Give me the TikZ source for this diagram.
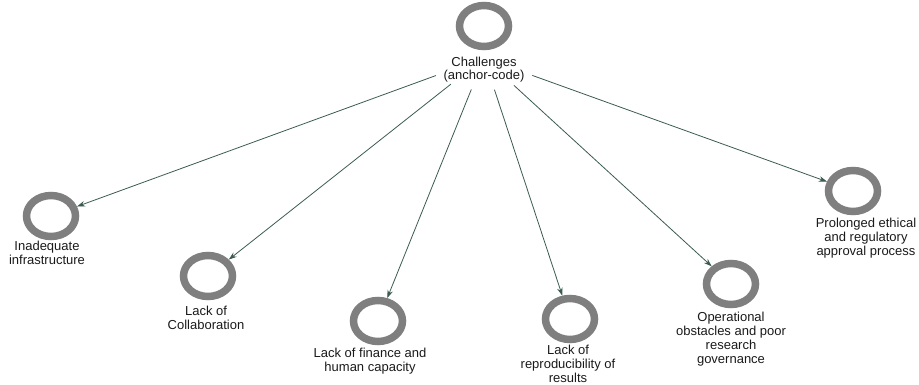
\documentclass[tikz,border=0pt]{standalone}
\usepackage{fontspec}
\setmainfont{Liberation Sans}
\usetikzlibrary{shapes.geometric,arrows.meta}
\definecolor{ringgray}{HTML}{7F7F7F}
\definecolor{arrowc}{HTML}{3B5B4F}
\definecolor{txt}{HTML}{1A1A1A}
\begin{document}
\begin{tikzpicture}[x=1pt,y=-1pt,
  ring/.style={ellipse,draw=ringgray,line width=7.5pt,minimum width=49pt,minimum height=41pt,inner sep=0pt},
  lbl/.style={align=center,anchor=north,font=\fontsize{13}{14}\selectfont,text=txt,inner sep=0pt},
  hub/.style={ellipse,minimum width=84pt,minimum height=64pt,inner sep=0pt,font=\fontsize{13}{14}\selectfont,text=txt},
  link/.style={draw=arrowc,line width=0.8pt,-{Stealth[length=8pt,width=5.5pt]}}]
\useasboundingbox (0,0) rectangle (919,385);
% central node
\node[ring] (ch) at (484,26) {};
\node[hub] (chl) at (484,58) {\raisebox{-15pt}[0pt][0pt]{\begin{tabular}{@{}c@{}}Challenges\\[-1pt](anchor-code)\end{tabular}}};
% targets
\node[ring] (b) at (51,216) {};
\node[lbl] (bl) at (47,241) {Inadequate\\infrastructure};
\node[ring] (c) at (208,276) {};
\node[lbl] (cl) at (206,306) {Lack of\\Collaboration};
\node[ring] (d) at (378,321) {};
\node[lbl] (dl) at (370,348) {Lack of finance and\\human capacity};
\node[ring] (e) at (570,319) {};
\node[lbl] (el) at (568,345) {Lack of\\reproducibility of\\results};
\node[ring] (f) at (731,284) {};
\node[lbl] (fl) at (731,312) {Operational\\obstacles and poor\\research\\governance};
\node[ring] (g) at (853,191) {};
\node[lbl] (gl) at (866,218) {Prolonged ethical\\and regulatory\\approval process};
% connectors
\foreach \t in {b,c,d,e,f,g}
  \draw[link] (chl) -- (\t);
\end{tikzpicture}
\end{document}
